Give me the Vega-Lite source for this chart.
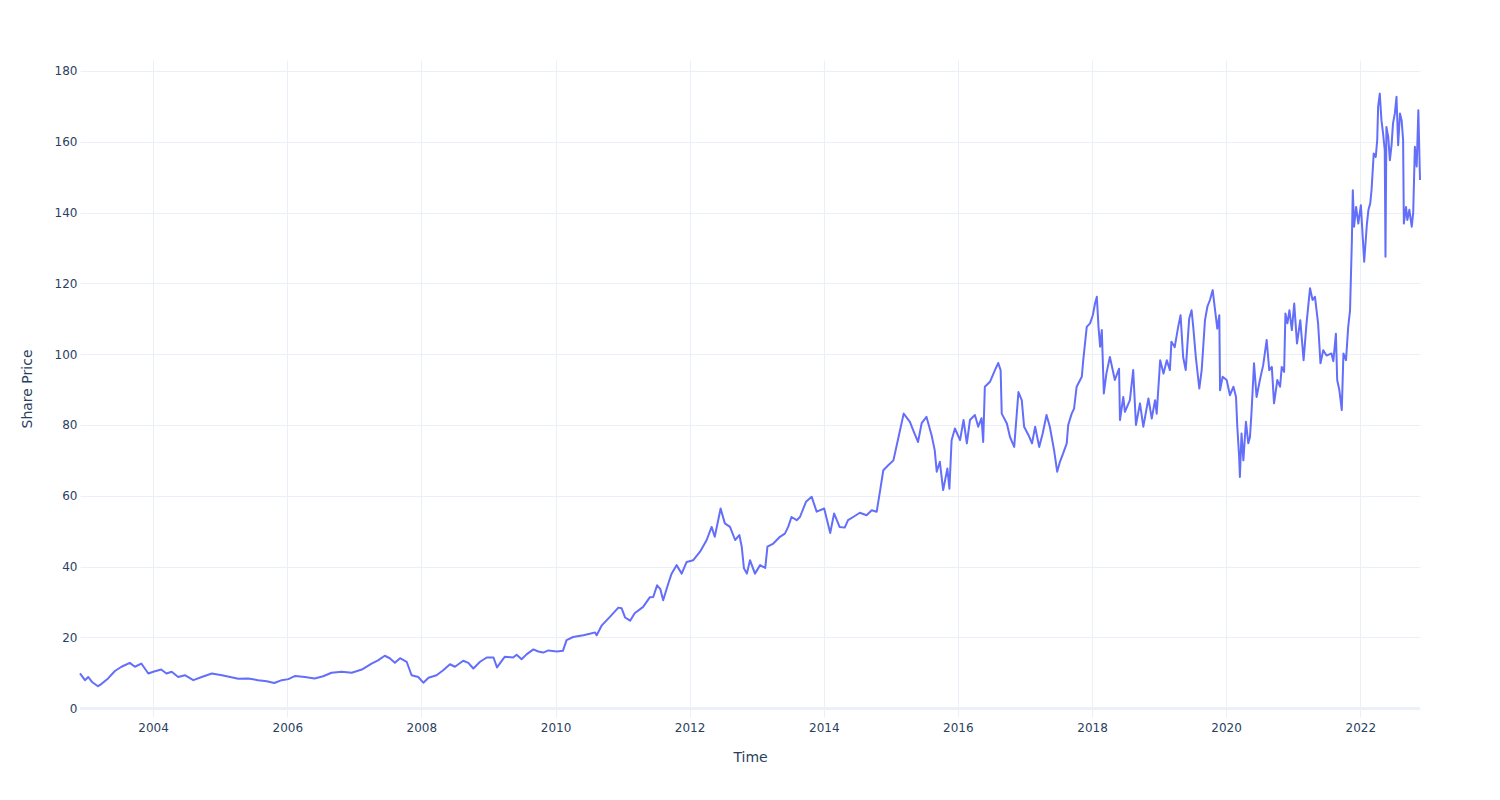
{
  "$schema": "https://vega.github.io/schema/vega-lite/v6.json",
  "autosize": "none",
  "width": 1340,
  "height": 657,
  "padding": {"left": 80, "top": 60, "right": 80, "bottom": 83},
  "background": "white",
  "config": {
    "font": "DejaVu Sans",
    "view": {"stroke": null},
    "axis": {
      "labelFont": "DejaVu Sans",
      "labelFontSize": 12,
      "labelColor": "#2a3f5f",
      "titleFont": "DejaVu Sans",
      "titleFontSize": 14,
      "titleFontWeight": "normal",
      "titleColor": "#2a3f5f",
      "gridColor": "#EBF0F8",
      "gridWidth": 1,
      "domain": false,
      "ticks": false
    }
  },
  "data": {"values": [
    {"date": "2002-11-29", "price": 9.8},
    {"date": "2002-12-26", "price": 7.9},
    {"date": "2003-01-13", "price": 8.8},
    {"date": "2003-02-02", "price": 7.4},
    {"date": "2003-03-07", "price": 6.2},
    {"date": "2003-03-25", "price": 6.8},
    {"date": "2003-05-01", "price": 8.4},
    {"date": "2003-06-07", "price": 10.5},
    {"date": "2003-07-13", "price": 11.7},
    {"date": "2003-08-27", "price": 12.8},
    {"date": "2003-09-24", "price": 11.7},
    {"date": "2003-10-29", "price": 12.6},
    {"date": "2003-12-06", "price": 9.8},
    {"date": "2004-01-02", "price": 10.3},
    {"date": "2004-02-14", "price": 10.9},
    {"date": "2004-03-14", "price": 9.8},
    {"date": "2004-04-11", "price": 10.3},
    {"date": "2004-05-17", "price": 8.8},
    {"date": "2004-06-22", "price": 9.3},
    {"date": "2004-08-07", "price": 7.9},
    {"date": "2004-09-22", "price": 8.8},
    {"date": "2004-11-16", "price": 9.8},
    {"date": "2005-01-10", "price": 9.3},
    {"date": "2005-02-24", "price": 8.8},
    {"date": "2005-04-09", "price": 8.3},
    {"date": "2005-06-02", "price": 8.4},
    {"date": "2005-07-26", "price": 7.9},
    {"date": "2005-09-11", "price": 7.6},
    {"date": "2005-10-22", "price": 7.1},
    {"date": "2005-12-02", "price": 7.9},
    {"date": "2006-01-07", "price": 8.2},
    {"date": "2006-02-13", "price": 9.1},
    {"date": "2006-04-07", "price": 8.8},
    {"date": "2006-05-30", "price": 8.4},
    {"date": "2006-07-15", "price": 9.0},
    {"date": "2006-08-30", "price": 10.0},
    {"date": "2006-10-24", "price": 10.3},
    {"date": "2006-12-18", "price": 10.0},
    {"date": "2007-02-11", "price": 10.9},
    {"date": "2007-04-05", "price": 12.6},
    {"date": "2007-05-10", "price": 13.5},
    {"date": "2007-06-16", "price": 14.8},
    {"date": "2007-07-13", "price": 14.1},
    {"date": "2007-08-10", "price": 12.8},
    {"date": "2007-09-07", "price": 14.1},
    {"date": "2007-10-13", "price": 13.1},
    {"date": "2007-11-09", "price": 9.3},
    {"date": "2007-12-15", "price": 8.8},
    {"date": "2008-01-12", "price": 7.2},
    {"date": "2008-02-09", "price": 8.6},
    {"date": "2008-03-24", "price": 9.3},
    {"date": "2008-04-29", "price": 10.7},
    {"date": "2008-06-05", "price": 12.4},
    {"date": "2008-07-02", "price": 11.7},
    {"date": "2008-08-16", "price": 13.4},
    {"date": "2008-09-13", "price": 12.8},
    {"date": "2008-10-10", "price": 11.2},
    {"date": "2008-11-16", "price": 13.1},
    {"date": "2008-12-22", "price": 14.3},
    {"date": "2009-01-28", "price": 14.3},
    {"date": "2009-02-16", "price": 11.5},
    {"date": "2009-03-30", "price": 14.5},
    {"date": "2009-05-15", "price": 14.3},
    {"date": "2009-06-03", "price": 15.1},
    {"date": "2009-06-30", "price": 13.8},
    {"date": "2009-07-27", "price": 15.2},
    {"date": "2009-09-02", "price": 16.6},
    {"date": "2009-09-29", "price": 16.0},
    {"date": "2009-10-26", "price": 15.7},
    {"date": "2009-11-23", "price": 16.3},
    {"date": "2010-01-08", "price": 16.0},
    {"date": "2010-02-10", "price": 16.2},
    {"date": "2010-03-02", "price": 19.2},
    {"date": "2010-04-07", "price": 20.1},
    {"date": "2010-06-01", "price": 20.6},
    {"date": "2010-07-07", "price": 21.0},
    {"date": "2010-08-04", "price": 21.4},
    {"date": "2010-08-13", "price": 20.6},
    {"date": "2010-09-10", "price": 23.4},
    {"date": "2010-10-24", "price": 25.8},
    {"date": "2010-12-09", "price": 28.4},
    {"date": "2010-12-27", "price": 28.2},
    {"date": "2011-01-15", "price": 25.6},
    {"date": "2011-02-11", "price": 24.7},
    {"date": "2011-03-08", "price": 26.8},
    {"date": "2011-04-23", "price": 28.6},
    {"date": "2011-05-29", "price": 31.3},
    {"date": "2011-06-17", "price": 31.4},
    {"date": "2011-07-08", "price": 34.7},
    {"date": "2011-07-26", "price": 33.6},
    {"date": "2011-08-10", "price": 30.5},
    {"date": "2011-09-07", "price": 35.2},
    {"date": "2011-09-25", "price": 38.0},
    {"date": "2011-10-22", "price": 40.4},
    {"date": "2011-11-19", "price": 38.0},
    {"date": "2011-12-16", "price": 41.3},
    {"date": "2012-01-21", "price": 41.8},
    {"date": "2012-02-27", "price": 44.2},
    {"date": "2012-04-03", "price": 47.5},
    {"date": "2012-04-30", "price": 51.2},
    {"date": "2012-05-17", "price": 48.4},
    {"date": "2012-06-18", "price": 56.4},
    {"date": "2012-07-11", "price": 52.2},
    {"date": "2012-08-08", "price": 51.2},
    {"date": "2012-09-05", "price": 47.5},
    {"date": "2012-09-28", "price": 48.9},
    {"date": "2012-10-11", "price": 45.6},
    {"date": "2012-10-23", "price": 39.5},
    {"date": "2012-11-08", "price": 38.0},
    {"date": "2012-11-25", "price": 41.8},
    {"date": "2012-12-22", "price": 38.0},
    {"date": "2013-01-19", "price": 40.4},
    {"date": "2013-02-16", "price": 39.6},
    {"date": "2013-02-28", "price": 45.6},
    {"date": "2013-04-01", "price": 46.5},
    {"date": "2013-05-07", "price": 48.4},
    {"date": "2013-06-03", "price": 49.3},
    {"date": "2013-06-21", "price": 51.2},
    {"date": "2013-07-09", "price": 54.0},
    {"date": "2013-08-06", "price": 53.1},
    {"date": "2013-08-24", "price": 54.0},
    {"date": "2013-09-26", "price": 58.3},
    {"date": "2013-10-27", "price": 59.7},
    {"date": "2013-11-23", "price": 55.5},
    {"date": "2014-01-03", "price": 56.4},
    {"date": "2014-02-05", "price": 49.5},
    {"date": "2014-02-26", "price": 55.0},
    {"date": "2014-03-28", "price": 51.2},
    {"date": "2014-04-25", "price": 51.0},
    {"date": "2014-05-13", "price": 53.1},
    {"date": "2014-06-10", "price": 54.0},
    {"date": "2014-07-16", "price": 55.2},
    {"date": "2014-08-22", "price": 54.5},
    {"date": "2014-09-19", "price": 55.9},
    {"date": "2014-10-16", "price": 55.5},
    {"date": "2014-11-04", "price": 61.6},
    {"date": "2014-11-21", "price": 67.2},
    {"date": "2014-12-18", "price": 68.6},
    {"date": "2015-01-15", "price": 70.0},
    {"date": "2015-02-12", "price": 76.6},
    {"date": "2015-03-12", "price": 83.2},
    {"date": "2015-04-15", "price": 80.9},
    {"date": "2015-05-03", "price": 78.5},
    {"date": "2015-05-29", "price": 75.2},
    {"date": "2015-06-18", "price": 80.5},
    {"date": "2015-07-14", "price": 82.3},
    {"date": "2015-08-11", "price": 77.1},
    {"date": "2015-08-28", "price": 72.9},
    {"date": "2015-09-08", "price": 66.8},
    {"date": "2015-09-25", "price": 69.6},
    {"date": "2015-10-13", "price": 61.6},
    {"date": "2015-11-05", "price": 67.7},
    {"date": "2015-11-16", "price": 62.0},
    {"date": "2015-11-28", "price": 75.7},
    {"date": "2015-12-16", "price": 79.0},
    {"date": "2016-01-13", "price": 75.7},
    {"date": "2016-02-01", "price": 81.4},
    {"date": "2016-02-19", "price": 74.8},
    {"date": "2016-03-07", "price": 81.4},
    {"date": "2016-04-03", "price": 82.8},
    {"date": "2016-04-21", "price": 79.5},
    {"date": "2016-05-09", "price": 81.9},
    {"date": "2016-05-18", "price": 75.2},
    {"date": "2016-05-27", "price": 90.8},
    {"date": "2016-06-24", "price": 92.2},
    {"date": "2016-07-21", "price": 95.5},
    {"date": "2016-08-08", "price": 97.5},
    {"date": "2016-08-21", "price": 95.5},
    {"date": "2016-08-27", "price": 83.2},
    {"date": "2016-09-24", "price": 80.4},
    {"date": "2016-10-11", "price": 76.6},
    {"date": "2016-11-03", "price": 73.8},
    {"date": "2016-11-26", "price": 89.3},
    {"date": "2016-12-14", "price": 87.0},
    {"date": "2016-12-27", "price": 79.5},
    {"date": "2017-01-20", "price": 77.1},
    {"date": "2017-02-08", "price": 74.8},
    {"date": "2017-02-25", "price": 79.5},
    {"date": "2017-03-19", "price": 73.8},
    {"date": "2017-04-07", "price": 77.6},
    {"date": "2017-04-28", "price": 82.8},
    {"date": "2017-05-16", "price": 79.5},
    {"date": "2017-06-08", "price": 72.9},
    {"date": "2017-06-25", "price": 66.8},
    {"date": "2017-07-10", "price": 69.6},
    {"date": "2017-07-27", "price": 71.9},
    {"date": "2017-08-16", "price": 74.8},
    {"date": "2017-08-24", "price": 80.0},
    {"date": "2017-09-12", "price": 83.2},
    {"date": "2017-09-25", "price": 84.6},
    {"date": "2017-10-09", "price": 90.8},
    {"date": "2017-11-06", "price": 93.6},
    {"date": "2017-11-14", "price": 98.3},
    {"date": "2017-12-03", "price": 107.7},
    {"date": "2017-12-21", "price": 108.7},
    {"date": "2018-01-05", "price": 111.0},
    {"date": "2018-01-17", "price": 114.3},
    {"date": "2018-01-27", "price": 116.2},
    {"date": "2018-02-05", "price": 107.7},
    {"date": "2018-02-14", "price": 102.1},
    {"date": "2018-02-23", "price": 106.8},
    {"date": "2018-03-02", "price": 95.5},
    {"date": "2018-03-06", "price": 88.9},
    {"date": "2018-03-20", "price": 94.5},
    {"date": "2018-04-08", "price": 99.2},
    {"date": "2018-04-22", "price": 95.9},
    {"date": "2018-05-05", "price": 92.7},
    {"date": "2018-05-28", "price": 95.9},
    {"date": "2018-06-02", "price": 81.4},
    {"date": "2018-06-20", "price": 87.9},
    {"date": "2018-06-29", "price": 83.7},
    {"date": "2018-07-26", "price": 87.0},
    {"date": "2018-08-13", "price": 95.5},
    {"date": "2018-08-28", "price": 80.0},
    {"date": "2018-09-19", "price": 86.1},
    {"date": "2018-10-07", "price": 79.5},
    {"date": "2018-11-04", "price": 87.5},
    {"date": "2018-11-22", "price": 81.8},
    {"date": "2018-12-10", "price": 87.0},
    {"date": "2018-12-19", "price": 83.2},
    {"date": "2019-01-07", "price": 98.3},
    {"date": "2019-01-25", "price": 94.5},
    {"date": "2019-02-12", "price": 98.3},
    {"date": "2019-03-01", "price": 95.5},
    {"date": "2019-03-09", "price": 103.5},
    {"date": "2019-03-27", "price": 102.0},
    {"date": "2019-04-15", "price": 107.7},
    {"date": "2019-04-28", "price": 111.0},
    {"date": "2019-05-12", "price": 99.2},
    {"date": "2019-05-26", "price": 95.5},
    {"date": "2019-06-14", "price": 110.1},
    {"date": "2019-06-27", "price": 112.4},
    {"date": "2019-07-06", "price": 107.7},
    {"date": "2019-07-20", "price": 99.2},
    {"date": "2019-08-08", "price": 90.3},
    {"date": "2019-08-21", "price": 95.5},
    {"date": "2019-09-08", "price": 109.6},
    {"date": "2019-09-21", "price": 113.4},
    {"date": "2019-10-05", "price": 115.3},
    {"date": "2019-10-20", "price": 118.1},
    {"date": "2019-11-02", "price": 112.4},
    {"date": "2019-11-14", "price": 107.2},
    {"date": "2019-11-25", "price": 111.0},
    {"date": "2019-11-29", "price": 89.8},
    {"date": "2019-12-13", "price": 93.6},
    {"date": "2020-01-04", "price": 92.7},
    {"date": "2020-01-22", "price": 88.4},
    {"date": "2020-02-10", "price": 90.8},
    {"date": "2020-02-24", "price": 87.9},
    {"date": "2020-03-02", "price": 79.5},
    {"date": "2020-03-12", "price": 71.0},
    {"date": "2020-03-16", "price": 65.3},
    {"date": "2020-03-25", "price": 77.6},
    {"date": "2020-04-04", "price": 70.0},
    {"date": "2020-04-18", "price": 80.9},
    {"date": "2020-05-01", "price": 74.8},
    {"date": "2020-05-10", "price": 76.6},
    {"date": "2020-05-19", "price": 84.2},
    {"date": "2020-06-01", "price": 97.4},
    {"date": "2020-06-15", "price": 87.9},
    {"date": "2020-07-03", "price": 92.7},
    {"date": "2020-07-21", "price": 96.9},
    {"date": "2020-08-09", "price": 104.0},
    {"date": "2020-08-23", "price": 95.5},
    {"date": "2020-09-06", "price": 96.4},
    {"date": "2020-09-18", "price": 86.1},
    {"date": "2020-10-06", "price": 92.7},
    {"date": "2020-10-21", "price": 90.8},
    {"date": "2020-10-30", "price": 96.4},
    {"date": "2020-11-12", "price": 95.0},
    {"date": "2020-11-19", "price": 111.5},
    {"date": "2020-11-30", "price": 108.7},
    {"date": "2020-12-11", "price": 112.4},
    {"date": "2020-12-24", "price": 106.8},
    {"date": "2021-01-06", "price": 114.3},
    {"date": "2021-01-21", "price": 103.0},
    {"date": "2021-02-08", "price": 109.6},
    {"date": "2021-02-26", "price": 98.3},
    {"date": "2021-03-14", "price": 108.7},
    {"date": "2021-04-02", "price": 118.6},
    {"date": "2021-04-16", "price": 115.3},
    {"date": "2021-04-29", "price": 116.2},
    {"date": "2021-05-16", "price": 108.7},
    {"date": "2021-05-29", "price": 97.4},
    {"date": "2021-06-13", "price": 101.1},
    {"date": "2021-07-01", "price": 99.6},
    {"date": "2021-07-28", "price": 100.2},
    {"date": "2021-08-07", "price": 98.0},
    {"date": "2021-08-21", "price": 105.8},
    {"date": "2021-08-28", "price": 92.7},
    {"date": "2021-09-09", "price": 89.8},
    {"date": "2021-09-22", "price": 84.2},
    {"date": "2021-10-01", "price": 100.2},
    {"date": "2021-10-15", "price": 98.3},
    {"date": "2021-10-27", "price": 107.7},
    {"date": "2021-11-06", "price": 112.4},
    {"date": "2021-11-16", "price": 132.2},
    {"date": "2021-11-21", "price": 146.3},
    {"date": "2021-11-28", "price": 136.0},
    {"date": "2021-12-09", "price": 141.6},
    {"date": "2021-12-21", "price": 136.9},
    {"date": "2022-01-04", "price": 142.1},
    {"date": "2022-01-15", "price": 132.2},
    {"date": "2022-01-22", "price": 126.1},
    {"date": "2022-02-06", "price": 136.9},
    {"date": "2022-02-14", "price": 140.7},
    {"date": "2022-02-24", "price": 142.6},
    {"date": "2022-03-03", "price": 146.3},
    {"date": "2022-03-15", "price": 156.7},
    {"date": "2022-03-26", "price": 155.7},
    {"date": "2022-04-03", "price": 160.5},
    {"date": "2022-04-08", "price": 169.9},
    {"date": "2022-04-17", "price": 173.6},
    {"date": "2022-04-26", "price": 166.1},
    {"date": "2022-05-05", "price": 162.3},
    {"date": "2022-05-14", "price": 157.6},
    {"date": "2022-05-18", "price": 127.5},
    {"date": "2022-05-23", "price": 164.2},
    {"date": "2022-06-02", "price": 161.4},
    {"date": "2022-06-11", "price": 154.8},
    {"date": "2022-06-20", "price": 159.0},
    {"date": "2022-06-28", "price": 165.2},
    {"date": "2022-07-08", "price": 168.0},
    {"date": "2022-07-17", "price": 172.7},
    {"date": "2022-07-26", "price": 159.0},
    {"date": "2022-08-05", "price": 168.0},
    {"date": "2022-08-14", "price": 166.0},
    {"date": "2022-08-22", "price": 160.5},
    {"date": "2022-08-26", "price": 136.9},
    {"date": "2022-09-07", "price": 141.6},
    {"date": "2022-09-14", "price": 137.9},
    {"date": "2022-09-25", "price": 140.8},
    {"date": "2022-10-08", "price": 136.0},
    {"date": "2022-10-16", "price": 140.0},
    {"date": "2022-10-25", "price": 158.6},
    {"date": "2022-11-04", "price": 153.0},
    {"date": "2022-11-13", "price": 168.9},
    {"date": "2022-11-22", "price": 149.2}
  ]},
  "encoding": {
    "x": {
      "field": "date",
      "type": "temporal",
      "title": "Time",
      "scale": {"nice": false},
      "axis": {
        "format": "%Y",
        "tickCount": {"interval": "year", "step": 2},
        "labelPadding": 5,
        "titlePadding": 17,
        "labelFlush": false,
        "labelOverlap": false
      }
    },
    "y": {
      "field": "price",
      "type": "quantitative",
      "title": "Share Price",
      "scale": {"domain": [-2.5, 183.1], "nice": false, "zero": false},
      "axis": {
        "values": [0, 20, 40, 60, 80, 100, 120, 140, 160, 180],
        "labelPadding": 3,
        "titlePadding": 20
      }
    }
  },
  "layer": [
    {
      "mark": {"type": "rule", "color": "#EBF0F8", "strokeWidth": 2},
      "encoding": {"y": {"datum": 0}, "x": {"value": 0}, "x2": {"value": 1340}}
    },
    {
      "mark": {"type": "line", "color": "#636EFA", "strokeWidth": 2, "strokeJoin": "round"}
    }
  ]
}
